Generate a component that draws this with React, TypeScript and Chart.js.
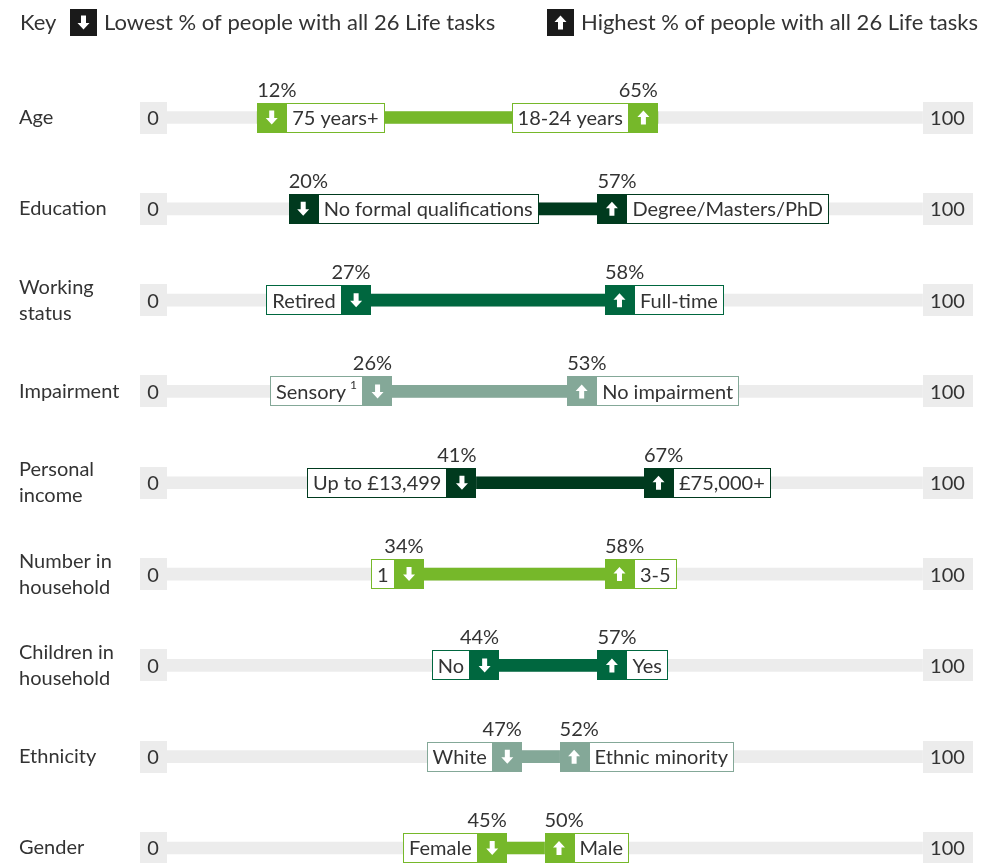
import { useEffect, useRef } from "react";
import { Chart, registerables } from "chart.js";

Chart.register(...registerables);

const FONT = 'Lato, "Noto Sans", sans-serif';
const TEXT = "#333333";
const TRACK = "#ececec";

const LIME = "#76b82a";
const DARK = "#003a1e";
const MID = "#00673f";
const SAGE = "#84a898";

const categories: string[][] = [
  ["Age"],
  ["Education"],
  ["Working", "status"],
  ["Impairment"],
  ["Personal", "income"],
  ["Number in", "household"],
  ["Children in", "household"],
  ["Ethnicity"],
  ["Gender"],
];
const lowValues = [12, 20, 27, 26, 41, 34, 44, 47, 45];
const highValues = [65, 57, 58, 53, 67, 58, 57, 52, 50];
const lowLabels = ["75 years+", "No formal qualifications", "Retired", "Sensory", "Up to £13,499", "1", "No", "White", "Female"];
const lowSuperscripts = ["", "", "", "1", "", "", "", "", ""];
const highLabels = ["18-24 years", "Degree/Masters/PhD", "Full-time", "No impairment", "£75,000+", "3-5", "Yes", "Ethnic minority", "Male"];
const rowColors = [LIME, DARK, MID, SAGE, DARK, LIME, MID, SAGE, LIME];

// layout: which side of the arrow icon the text box sits, and small nudges (in icon widths)
const lowLabelSide = ["right", "right", "left", "left", "left", "left", "left", "left", "left"];
const highLabelSide = ["left", "right", "right", "right", "right", "right", "right", "right", "right"];
const lowNudge = [0, -1, 0, 1, 0, 0, 0, 0, 0];
const highNudge = [0, 0, 0, 0, -1, 0, 0, 0, 0];

const keyLow = "Lowest % of people with all 26 Life tasks";
const keyHigh = "Highest % of people with all 26 Life tasks";

const ICON_W = 29;
const BOX_H = 30;

function drawArrow(ctx: CanvasRenderingContext2D, cx: number, cy: number, up: boolean) {
  ctx.save();
  ctx.fillStyle = "#ffffff";
  ctx.beginPath();
  const d = up ? -1 : 1;
  const shaftW = 5;
  const tipY = cy + d * 7;
  const baseY = cy + d * 0.5;
  const tailY = cy - d * 7;
  ctx.moveTo(cx - shaftW / 2, tailY);
  ctx.lineTo(cx + shaftW / 2, tailY);
  ctx.lineTo(cx + shaftW / 2, baseY);
  ctx.lineTo(cx + 6, baseY);
  ctx.lineTo(cx, tipY);
  ctx.lineTo(cx - 6, baseY);
  ctx.lineTo(cx - shaftW / 2, baseY);
  ctx.closePath();
  ctx.fill();
  ctx.restore();
}

function crispRect(ctx: CanvasRenderingContext2D, x: number, y: number, w: number, h: number, fill: string | null, stroke: string | null) {
  const x0 = Math.round(x);
  const y0 = Math.round(y);
  const w0 = Math.round(x + w) - x0;
  const h0 = Math.round(y + h) - y0;
  if (fill) {
    ctx.fillStyle = fill;
    ctx.fillRect(x0, y0, w0, h0);
  }
  if (stroke) {
    ctx.strokeStyle = stroke;
    ctx.lineWidth = 1;
    ctx.strokeRect(x0 + 0.5, y0 + 0.5, w0 - 1, h0 - 1);
  }
}

const dumbbellPlugin = {
  id: "dumbbellMarkers",
  afterDatasetsDraw(chart: any) {
    const ctx: CanvasRenderingContext2D = chart.ctx;
    const xs = chart.scales.x;
    const ys = chart.scales.y;
    ctx.save();

    // key
    ctx.font = `22px ${FONT}`;
    ctx.fillStyle = TEXT;
    ctx.textBaseline = "middle";
    ctx.textAlign = "left";
    ctx.fillText("Key", 20, 23);
    crispRect(ctx, 70, 9, 27, 27, "#1a1a1a", null);
    drawArrow(ctx, 83.5, 22.5, false);
    ctx.fillStyle = TEXT;
    ctx.fillText(keyLow, 104, 23);
    crispRect(ctx, 547, 9, 27, 27, "#1a1a1a", null);
    drawArrow(ctx, 560.5, 22.5, true);
    ctx.fillStyle = TEXT;
    ctx.fillText(keyHigh, 581, 23);

    const x0 = xs.getPixelForValue(0);
    const x100 = xs.getPixelForValue(100);

    categories.forEach((lines, i) => {
      const cy = ys.getPixelForValue(i);
      const color = rowColors[i];

      // category label
      ctx.font = `20px ${FONT}`;
      ctx.fillStyle = TEXT;
      ctx.textAlign = "left";
      ctx.textBaseline = "middle";
      const lh = 26;
      lines.forEach((ln, k) => {
        ctx.fillText(ln, 19, cy + (k - (lines.length - 1) / 2) * lh);
      });

      // 0 and 100 end boxes
      crispRect(ctx, x0 - 27, cy - 16, 27, 32, TRACK, null);
      crispRect(ctx, x100, cy - 16, 50, 32, TRACK, null);
      ctx.fillStyle = TEXT;
      ctx.textAlign = "center";
      ctx.fillText("0", x0 - 13.5, cy + 1);
      ctx.fillText("100", x100 + 25, cy + 1);

      const markers = [
        { v: lowValues[i], label: lowLabels[i], sup: lowSuperscripts[i], side: lowLabelSide[i], nudge: lowNudge[i], up: false },
        { v: highValues[i], label: highLabels[i], sup: "", side: highLabelSide[i], nudge: highNudge[i], up: true },
      ];
      markers.forEach((m) => {
        const px = xs.getPixelForValue(m.v) + m.nudge * ICON_W;
        ctx.font = `20px ${FONT}`;
        const tw = ctx.measureText(m.label).width;
        ctx.font = `12px ${FONT}`;
        const sw = m.sup ? ctx.measureText(m.sup).width + 4 : 0;
        const pad = 6;
        const lw = tw + sw + pad * 2;
        const top = cy - BOX_H / 2;
        let iconL: number;
        let boxL: number;
        if (m.side === "right") {
          iconL = px;
          boxL = iconL + ICON_W;
        } else {
          iconL = px - ICON_W;
          boxL = iconL - lw;
        }
        crispRect(ctx, boxL, top, lw, BOX_H, "#ffffff", color);
        crispRect(ctx, iconL, top, ICON_W, BOX_H, color, null);
        drawArrow(ctx, iconL + ICON_W / 2, cy, m.up);

        ctx.fillStyle = TEXT;
        ctx.textBaseline = "middle";
        ctx.textAlign = "left";
        ctx.font = `20px ${FONT}`;
        ctx.fillText(m.label, boxL + pad, cy + 1);
        if (m.sup) {
          ctx.font = `12px ${FONT}`;
          ctx.fillText(m.sup, boxL + pad + tw + 4, cy - 6);
        }

        // percentage above the icon
        ctx.font = `20px ${FONT}`;
        ctx.textBaseline = "alphabetic";
        if (m.side === "right") {
          ctx.textAlign = "left";
          ctx.fillText(`${m.v}%`, iconL, top - 6);
        } else {
          ctx.textAlign = "right";
          ctx.fillText(`${m.v}%`, iconL + ICON_W, top - 6);
        }
      });
    });
    ctx.restore();
  },
};

export default function App() {
  const ref = useRef<HTMLCanvasElement | null>(null);
  useEffect(() => {
    if (!ref.current) return;
    const labels = categories.map((c) => c.join(" "));
    const chart = new Chart(ref.current, {
      type: "bar",
      data: {
        labels,
        datasets: [
          {
            label: "track",
            data: labels.map(() => [0, 100]) as any,
            backgroundColor: TRACK,
            barThickness: 12,
            borderSkipped: false,
            clip: false as any,
            order: 2,
          },
          {
            label: "range",
            data: lowValues.map((v, i) => [v, highValues[i]]) as any,
            backgroundColor: rowColors,
            barThickness: 12,
            borderSkipped: false,
            clip: false as any,
            order: 1,
          },
        ],
      },
      options: {
        indexAxis: "y",
        responsive: false,
        animation: false,
        devicePixelRatio: 1,
        layout: { padding: { left: 166.5, right: 81.5, top: 117.5, bottom: 15 } },
        scales: {
          x: { type: "linear", min: 0, max: 100, display: false, stacked: false },
          y: { type: "category", offset: false, display: false, grid: { display: false } },
        },
        datasets: { bar: { grouped: false } } as any,
        plugins: { legend: { display: false }, tooltip: { enabled: false } },
      } as any,
      plugins: [dumbbellPlugin],
    });
    return () => chart.destroy();
  }, []);
  return (
    <div style={{ position: "fixed", left: 0, top: 0, width: 1004, height: 863, background: "#ffffff" }}>
      <canvas ref={ref} width={1004} height={863} style={{ display: "block" }} />
    </div>
  );
}
